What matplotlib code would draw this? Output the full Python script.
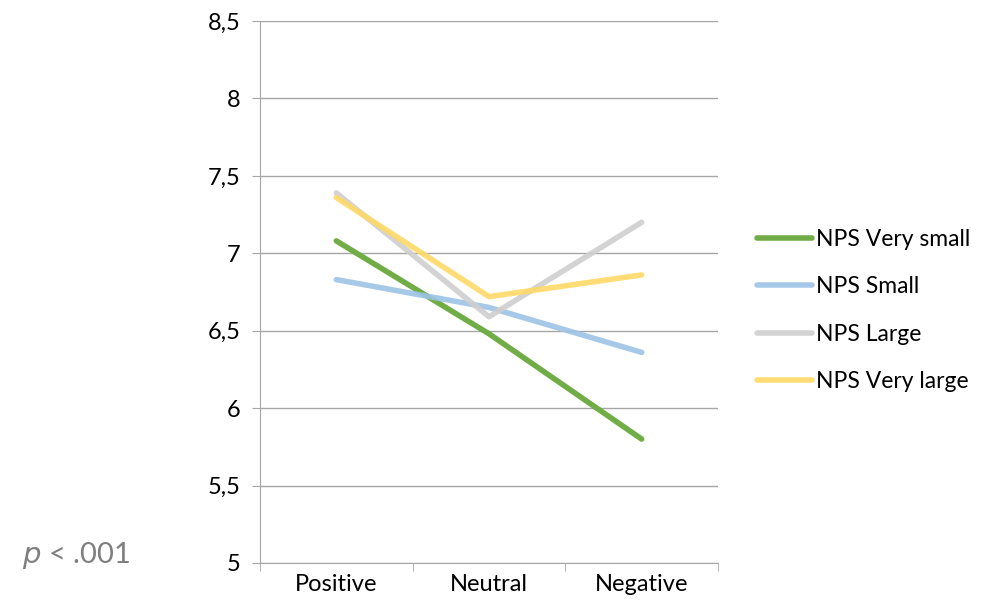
import numpy as np
from matplotlib import pyplot as plt
from matplotlib.ticker import FixedLocator

plt.rcParams["font.family"] = ["Lato", "DejaVu Sans"]

categories = ["Positive", "Neutral", "Negative"]
very_small = [7.08, 6.48, 5.80]
small = [6.83, 6.65, 6.36]
large = [7.39, 6.59, 7.20]
very_large = [7.36, 6.72, 6.86]

series = [
    ("NPS Very small", very_small, "#70AD47", 1.0),
    ("NPS Small", small, "#9DC3E6", 0.9),
    ("NPS Large", large, "#CFCFCF", 0.9),
    ("NPS Very large", very_large, "#FFD966", 0.9),
]

fig = plt.figure(figsize=(9.84, 6.14), dpi=100)
ax = fig.add_axes([0.2642, 0.0831, 0.4655, 0.8827])

x = np.arange(len(categories))
for name, vals, color, alpha in series:
    ax.plot(x, vals, color=color, lw=4, alpha=alpha, label=name,
            solid_capstyle="round")

ax.set_xlim(-0.5, 2.5)
ax.set_ylim(5, 8.5)
ax.set_yticks(np.arange(5, 8.51, 0.5))
ax.set_yticklabels([f"{v:g}".replace(".", ",") for v in np.arange(5, 8.51, 0.5)])
ax.set_xticks(x)
ax.set_xticklabels(categories)
ax.xaxis.set_minor_locator(FixedLocator([-0.5, 0.5, 1.5, 2.5]))
ax.tick_params(axis="x", which="major", length=0, pad=8, labelsize=17)
ax.tick_params(axis="x", which="minor", length=6, color="#A6A6A6", direction="out")
ax.tick_params(axis="y", length=6, color="#A6A6A6", pad=8, labelsize=17)

ax.grid(axis="y", color="#A6A6A6", lw=1)
ax.set_axisbelow(True)
for side in ["top", "right"]:
    ax.spines[side].set_visible(False)
for side in ["left", "bottom"]:
    ax.spines[side].set_color("#A6A6A6")

fig.legend(loc="upper left", bbox_to_anchor=(0.769, 0.627), frameon=False,
           fontsize=16.5, borderpad=0, borderaxespad=0, handlelength=2.4,
           handletextpad=0.2, labelspacing=1.15)

fig.text(0.022, 0.083, r"$\it{p}$ < .001", fontsize=21, color="#7F7F7F")

fig.savefig("out.png", dpi=100)
